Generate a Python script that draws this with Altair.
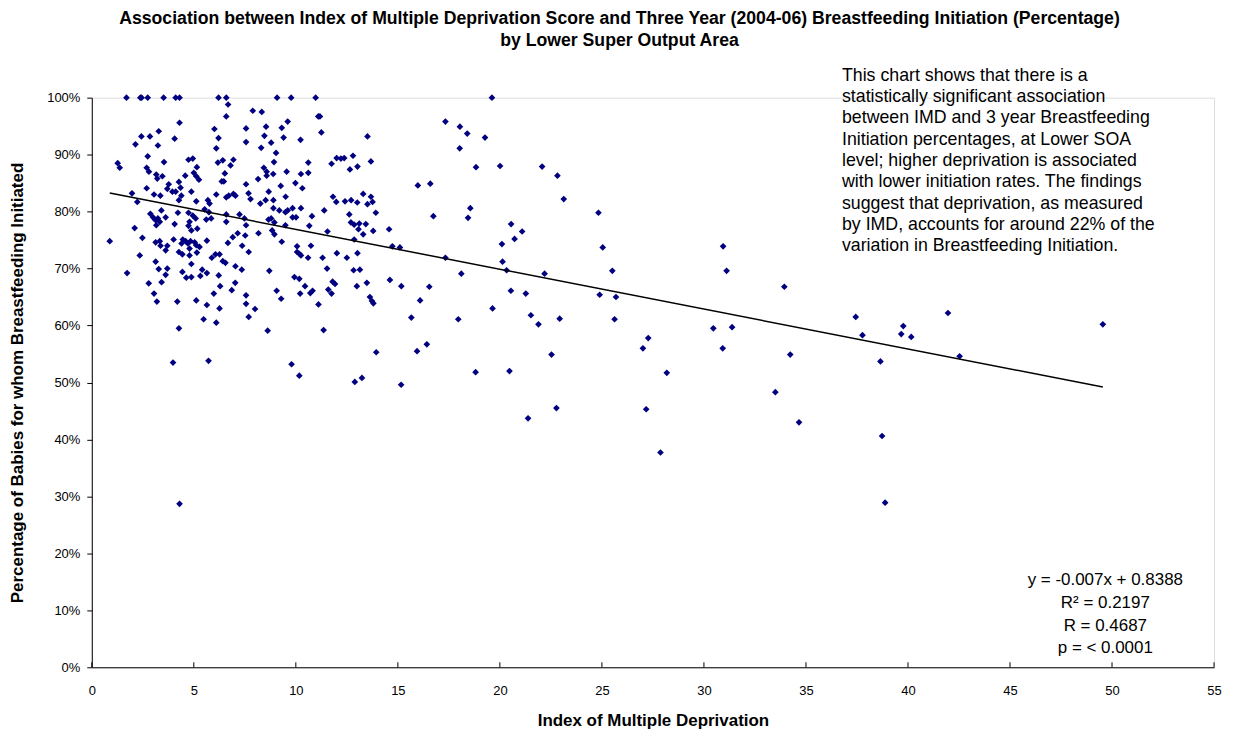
import altair as alt
import pandas as pd

# IMD score (x) and breastfeeding initiation % (y)
imd = [1.70, 2.38, 2.44, 2.74, 3.52, 4.11, 4.30, 6.21, 6.59, 6.68, 6.59, 4.30, 6.01, 7.56, 3.28, 2.43, 2.85, 4.06, 6.21, 7.56,
       2.14, 3.24, 6.10, 2.74, 4.74, 4.95, 3.54, 6.18, 6.42, 6.94, 1.27, 1.37, 5.15, 2.69, 2.80, 6.80, 5.00, 5.12, 5.25, 3.16,
       3.46, 3.21, 4.58, 6.52, 6.37, 6.47, 3.77, 4.27, 7.56, 4.35, 3.70, 3.95, 4.11, 2.69, 4.88, 1.97, 3.05, 3.36, 4.39, 6.10,
       6.59, 6.71, 6.94, 7.04, 7.68, 2.23, 5.12, 5.69, 5.77, 4.27, 9.08, 9.77, 10.97, 7.89, 8.33, 11.10, 11.18, 9.60, 8.54, 9.31,
       11.25, 8.46, 9.40, 10.23, 13.51, 8.79, 8.30, 9.03, 12.00, 12.21, 12.37, 12.80, 11.75, 10.61, 8.93, 13.68, 8.43, 8.57, 8.57, 8.89,
       9.55, 10.25, 10.61, 12.65, 13.02, 8.15, 9.98, 10.32, 9.26, 7.78, 8.67, 9.50, 11.82, 13.30, 13.68, 13.76, 8.52, 8.90, 8.26, 11.98,
       12.41, 12.71, 13.01, 13.51, 2.87, 3.00, 3.13, 3.24, 3.33, 3.16, 3.41, 3.62, 4.22, 4.74, 4.95, 5.09, 4.79, 4.74, 4.88, 5.17,
       5.53, 5.74, 5.61, 5.85, 4.06, 6.59, 6.59, 7.24, 7.48, 7.56, 2.10, 0.88, 2.48, 3.13, 3.33, 3.37, 3.70, 3.62, 4.01, 4.46,
       4.60, 4.40, 4.71, 4.84, 5.04, 5.12, 5.28, 5.64, 4.27, 4.44, 4.79, 4.79, 5.15, 2.35, 6.67, 6.91, 7.15, 7.37, 7.52, 7.69,
       5.88, 6.06, 6.26, 6.42, 6.55, 3.13, 4.88, 3.28, 3.70, 1.73, 3.62, 4.44, 4.63, 4.88, 5.32, 5.41, 5.64, 6.22, 7.04, 7.35,
       2.79, 3.42, 3.05, 3.19, 4.19, 5.12, 5.64, 5.98, 6.29, 6.86, 7.03, 7.56, 7.56, 6.26, 5.48, 6.10, 7.69, 8.90, 9.19, 9.49,
       9.60, 9.84, 10.25, 11.39, 13.92, 9.84, 10.01, 10.79, 8.66, 8.79, 8.95, 12.70, 12.86, 13.11, 13.43, 12.62, 9.49, 10.66, 8.17, 8.84,
       8.95, 13.07, 13.30, 13.79, 11.55, 14.57, 12.86, 9.31, 10.06, 10.06, 10.17, 10.25, 10.74, 10.60, 11.31, 12.01, 12.50, 13.02, 14.73, 15.10,
       11.53, 8.70, 12.83, 13.14, 9.93, 10.17, 10.45, 11.80, 11.92, 12.99, 13.48, 14.61, 15.17, 9.06, 10.21, 10.71, 10.82, 11.59, 11.75, 9.28,
       11.11, 13.63, 13.73, 13.80, 8.00, 4.27, 3.98, 5.72, 4.30, 8.62, 11.36, 13.94, 9.79, 10.17, 12.89, 13.24, 15.16, 19.61, 17.33, 18.04,
       18.40, 19.27, 18.03, 18.83, 20.01, 22.07, 22.82, 15.98, 16.59, 23.13, 18.55, 16.74, 18.44, 24.83, 20.55, 21.09, 20.72, 20.10, 25.04, 17.33,
       20.13, 18.11, 20.33, 22.19, 25.51, 16.54, 16.09, 20.54, 21.27, 24.89, 25.69, 19.64, 15.66, 17.96, 21.52, 21.89, 22.93, 25.62, 16.42, 15.94,
       22.53, 18.81, 20.47, 22.77, 21.38, 30.94, 31.11, 33.94, 37.44, 37.77, 39.77, 39.67, 40.16, 30.46, 31.38, 27.27, 27.01, 30.92, 34.23, 38.65,
       28.18, 33.50, 27.17, 34.66, 38.73, 27.87, 41.96, 42.53, 49.55, 38.88]

bf_pct = [100, 100, 100, 100, 100, 100, 100, 100, 100, 98.8, 96.7, 95.6, 94.5, 94.6, 94.1, 93.2, 93.2, 92.8, 92.9, 92.2,
          91.8, 91.6, 91.1, 89.7, 89.1, 89.3, 88.7, 88.6, 89.0, 89.1, 88.5, 87.7, 87.8, 87.7, 87.0, 88.1, 86.8, 86.2, 85.6, 86.5,
          86.2, 85.8, 86.3, 86.7, 85.3, 85.3, 84.8, 85.2, 84.8, 84.2, 84.0, 83.5, 83.5, 84.1, 83.5, 83.2, 83.0, 82.8, 82.8, 83.0,
          82.5, 82.8, 83.1, 82.8, 83.2, 81.7, 81.8, 82.0, 81.4, 82.0, 100, 100, 100, 97.7, 97.5, 96.7, 96.7, 95.8, 94.9, 94.7,
          93.9, 93.3, 93.0, 92.6, 93.2, 92.1, 91.2, 90.3, 89.4, 89.3, 89.4, 89.8, 88.4, 88.6, 88.7, 88.8, 87.7, 87.0, 86.3, 86.6,
          87.0, 86.6, 86.8, 87.4, 87.9, 85.7, 85.0, 84.1, 84.5, 82.2, 83.5, 82.6, 82.6, 83.1, 82.6, 81.7, 82.0, 82.0, 81.4, 81.7,
          81.8, 82.0, 81.6, 81.3, 79.6, 79.0, 78.5, 78.8, 78.2, 77.6, 80.2, 79.0, 79.8, 79.8, 79.3, 78.8, 78.2, 77.5, 76.7, 77.0,
          80.4, 79.9, 78.6, 78.8, 77.8, 79.5, 78.2, 79.5, 78.8, 77.6, 77.1, 74.8, 75.4, 74.6, 74.8, 74.0, 74.0, 73.2, 75.1, 75.1,
          74.8, 74.4, 74.4, 74.8, 74.6, 74.1, 73.8, 74.9, 72.9, 72.5, 73.5, 72.3, 72.8, 72.3, 74.5, 75.5, 76.2, 74.0, 75.8, 72.9,
          71.9, 72.5, 72.5, 71.3, 71.0, 71.2, 70.8, 69.9, 70.0, 69.2, 68.9, 69.4, 68.4, 68.5, 68.7, 69.8, 69.2, 68.8, 70.4, 69.8,
          67.4, 67.6, 65.6, 64.2, 64.2, 64.4, 63.6, 65.6, 66.9, 66.2, 67.5, 65.3, 63.8, 63.0, 61.1, 60.5, 61.5, 80.6, 80.2, 79.9,
          80.2, 80.6, 80.6, 80.2, 79.8, 79.0, 79.0, 79.2, 78.6, 78.8, 78.1, 78.1, 77.7, 77.9, 77.8, 79.5, 77.6, 77.5, 76.2, 76.7,
          76.0, 76.9, 76.0, 76.6, 76.5, 76.9, 75.1, 74.7, 73.9, 72.9, 72.6, 72.3, 74.0, 71.9, 71.9, 72.7, 71.9, 72.7, 73.9, 73.7,
          70.0, 69.6, 69.7, 69.8, 68.5, 68.2, 66.9, 67.7, 67.3, 66.9, 67.5, 68.0, 66.9, 66.1, 65.6, 65.7, 66.1, 66.3, 65.6, 64.7,
          63.7, 65.0, 64.3, 63.9, 62.9, 59.5, 53.5, 53.8, 28.7, 59.1, 59.2, 55.3, 53.2, 51.2, 50.1, 50.8, 49.6, 100, 95.8, 94.9,
          93.7, 93.0, 91.1, 87.8, 88.0, 87.9, 86.3, 84.6, 84.9, 82.2, 80.6, 79.2, 78.9, 79.8, 77.8, 76.5, 75.2, 74.3, 73.7, 71.9,
          71.2, 69.1, 69.7, 69.1, 69.6, 66.8, 64.4, 66.1, 65.6, 65.4, 65.0, 63.0, 61.4, 61.1, 61.8, 60.2, 61.2, 61.1, 56.7, 55.5,
          54.9, 51.8, 52.0, 45.5, 43.7, 73.9, 69.6, 66.8, 61.5, 58.3, 59.9, 58.5, 58.0, 59.5, 59.7, 57.8, 56.0, 56.0, 54.9, 53.7,
          51.7, 48.3, 45.3, 43.0, 40.6, 37.7, 62.2, 54.6, 60.2, 28.9]

x_ticks = [0, 5, 10, 15, 20, 25, 30, 35, 40, 45, 50, 55]
y_ticks = [0, 10, 20, 30, 40, 50, 60, 70, 80, 90, 100]

slope = -0.007
intercept = 0.8388

title_lines = [
    "Association between Index of Multiple Deprivation Score and Three Year (2004-06) Breastfeeding Initiation (Percentage)",
    "by Lower Super Output Area",
]
note_lines = [
    "This chart shows that there is a",
    "statistically significant association",
    "between IMD and 3 year Breastfeeding",
    "Initiation percentages, at Lower SOA",
    "level; higher deprivation is associated",
    "with lower initiation rates. The findings",
    "suggest that deprivation, as measured",
    "by IMD, accounts for around 22% of the",
    "variation in Breastfeeding Initiation.",
]
stats_lines = ["y = -0.007x + 0.8388", "R\u00b2 = 0.2197", "R = 0.4687", "p = < 0.0001"]

df = pd.DataFrame({"imd": imd, "pct": bf_pct})
xmin, xmax = min(imd), max(imd)
fit = pd.DataFrame({
    "imd": [xmin, xmax],
    "pct": [100 * (intercept + slope * xmin), 100 * (intercept + slope * xmax)],
})
ticks_df = pd.DataFrame({"imd": x_ticks})

W, H = 1125, 571
FONT = "Liberation Sans"

x_enc = alt.X(
    "imd:Q",
    scale=alt.Scale(domain=[0, 55], nice=False, zero=False),
    axis=alt.Axis(
        values=x_ticks, title="Index of Multiple Deprivation", ticks=False,
        labelPadding=17, titlePadding=15, grid=False, labelFlush=False,
        domainColor="black", labelColor="black", titleColor="black",
        labelFont=FONT, labelFontSize=13, titleFont=FONT, titleFontSize=17, titleFontWeight="bold",
    ),
)
y_enc = alt.Y(
    "pct:Q",
    scale=alt.Scale(domain=[0, 100], nice=False),
    axis=alt.Axis(
        values=y_ticks, labelExpr="datum.value + '%'",
        title="Percentage of Babies for whom Breastfeeding Initiated",
        tickSize=5, tickColor="black", labelPadding=7, titlePadding=20, grid=False, labelFlush=False,
        domainColor="black", labelColor="black", titleColor="black",
        labelFont=FONT, labelFontSize=13, titleFont=FONT, titleFontSize=17, titleFontWeight="bold",
    ),
)

points = alt.Chart(df).mark_point(
    shape="diamond", filled=True, color="#000080", size=45, opacity=1
).encode(x=x_enc, y=y_enc)

trend = alt.Chart(fit).mark_line(color="black", strokeWidth=1.5).encode(x=x_enc, y=y_enc)

xticks = alt.Chart(ticks_df).mark_rule(color="black", strokeWidth=1).encode(
    x=x_enc, y=alt.value(H - 5), y2=alt.value(H)
)

one = pd.DataFrame({"k": [0]})

title_txt = alt.Chart(one).mark_text(
    font=FONT, fontSize=17.7, fontWeight="bold", align="center", baseline="top",
    lineHeight=22, color="black"
).encode(x=alt.value(529), y=alt.value(-88), text=alt.value(title_lines))

note_txt = alt.Chart(one).mark_text(
    font=FONT, fontSize=17.8, align="left", baseline="top", lineHeight=21.4, color="black"
).encode(x=alt.value(752), y=alt.value(-31), text=alt.value(note_lines))

stats_txt = alt.Chart(one).mark_text(
    font=FONT, fontSize=17, align="center", baseline="top", lineHeight=22.7, color="black"
).encode(x=alt.value(1016), y=alt.value(476), text=alt.value(stats_lines))

chart = alt.layer(points, trend, xticks, title_txt, note_txt, stats_txt).properties(
    width=W, height=H,
    autosize=alt.AutoSizeParams(type="none"),
    padding={"left": 84, "top": 89, "right": 20, "bottom": 62},
).configure_view(stroke=None).configure(background="white")

chart.save("out.html", embed_options={"renderer": "svg", "actions": False})
